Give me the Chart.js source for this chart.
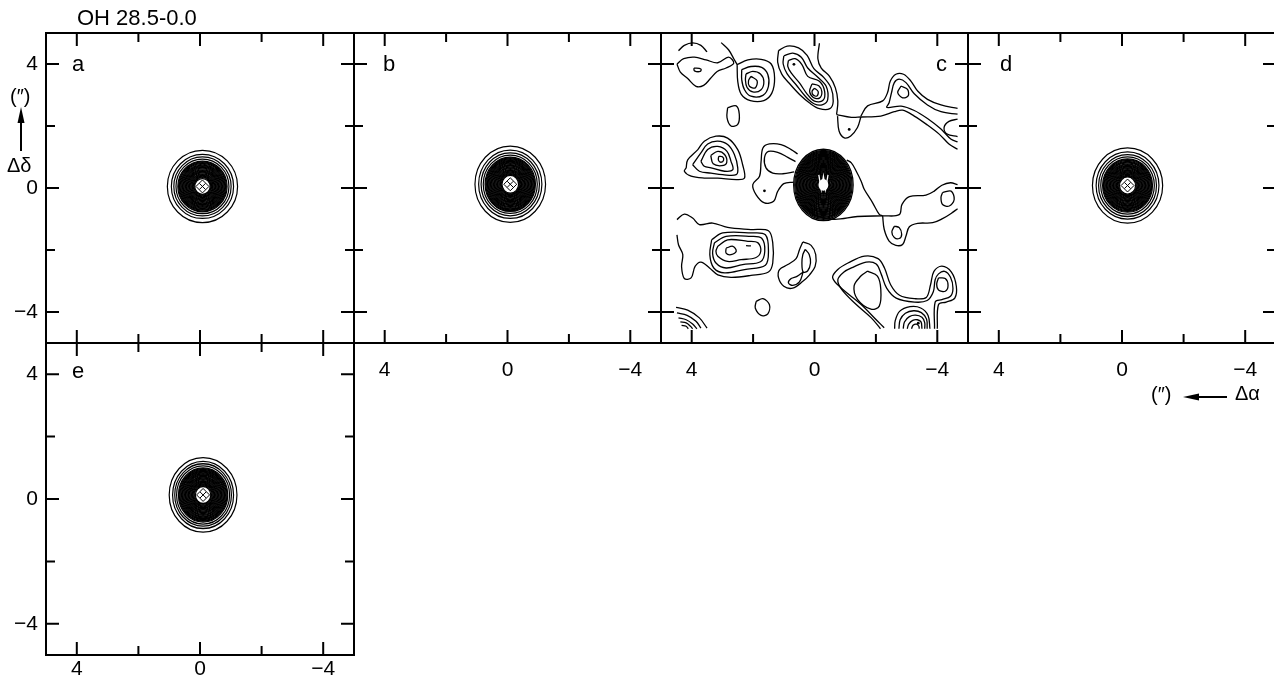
<!DOCTYPE html>
<html>
<head>
<meta charset="utf-8">
<title>OH 28.5-0.0</title>
<script src="https://cdn.jsdelivr.net/npm/chart.js@4.4.1/dist/chart.umd.min.js"></script>
<style>
  html, body { margin: 0; padding: 0; background: #fff; }
  body { position: relative; width: 1274px; height: 681px; overflow: hidden; font-family: 'Liberation Sans', Arial, sans-serif; color: #000; }
  canvas { position: absolute; left: 0; top: 0; }
  .lbl { position: absolute; white-space: nowrap; font-size: 22px; line-height: 22px; }
  .ax { position: absolute; white-space: nowrap; font-size: 20px; line-height: 20px; }
  svg { position: absolute; left: 0; top: 0; }
</style>
</head>
<body>
<canvas id="panelA" width="1290" height="720"></canvas>
<canvas id="panelB" width="1290" height="720"></canvas>
<canvas id="panelC" width="1290" height="720"></canvas>
<canvas id="panelD" width="1290" height="720"></canvas>
<canvas id="panelE" width="1290" height="720"></canvas>

<div class="lbl" style="left:77px;top:7px">OH 28.5-0.0</div>
<div class="lbl" style="left:72px;top:53px">a</div>
<div class="lbl" style="left:383px;top:53px">b</div>
<div class="lbl" style="left:936px;top:53px">c</div>
<div class="lbl" style="left:1000px;top:53px">d</div>
<div class="lbl" style="left:72px;top:360px">e</div>
<div class="ax" style="left:10px;top:86px">(″)</div>
<div class="ax" style="left:7px;top:155px">Δδ</div>
<div class="ax" style="left:1151px;top:384px">(″)</div>
<div class="ax" style="left:1235px;top:383px">Δα</div>
<svg width="1274" height="681">
  <line x1="21" y1="151" x2="21" y2="118" stroke="#000" stroke-width="2"/>
  <polygon points="21,107 17.5,123 24.5,123" fill="#000"/>
  <line x1="1227" y1="397" x2="1195" y2="397" stroke="#000" stroke-width="2"/>
  <polygon points="1183,397 1199,393.5 1199,400.5" fill="#000"/>
</svg>

<script>
const tickValues = [4, 2, 0, -2, -4];
const tickLabels = ['4', '', '0', '', '\u22124'];

// compact maps (a, b, d, e): source centre and contour radii, arcsec
const centerA = [-0.08, 0.05];
const ringsA = [1.14, 1.01, 0.93, 0.86, 0.80, 0.775, 0.75, 0.725, 0.70, 0.675, 0.65, 0.625, 0.60, 0.575, 0.55, 0.525, 0.50, 0.475, 0.45, 0.425, 0.40, 0.375, 0.35, 0.325, 0.30, 0.275, 0.25];
const centerB = [-0.09, 0.12];
const ringsB = [1.15, 1.03, 0.95, 0.88, 0.82, 0.795, 0.77, 0.745, 0.72, 0.695, 0.67, 0.645, 0.62, 0.595, 0.57, 0.545, 0.52, 0.495, 0.47, 0.445, 0.42, 0.395, 0.37, 0.345, 0.32, 0.295, 0.27];
const centerD = [-0.18, 0.08];
const ringsD = [1.14, 1.02, 0.94, 0.87, 0.81, 0.785, 0.76, 0.735, 0.71, 0.685, 0.66, 0.635, 0.61, 0.585, 0.56, 0.535, 0.51, 0.485, 0.46, 0.435, 0.41, 0.385, 0.36, 0.335, 0.31, 0.285, 0.26];
const centerE = [-0.10, 0.13];
const ringsE = [1.10, 0.99, 0.92, 0.86, 0.80, 0.775, 0.75, 0.725, 0.70, 0.675, 0.65, 0.625, 0.60, 0.575, 0.55, 0.525, 0.50, 0.475, 0.45, 0.425, 0.40, 0.375, 0.35, 0.325, 0.30, 0.275, 0.25];
// axis ratio (north-south / east-west) of the rings
const ellipticity = { a: 1.03, b: 1.08, c: 1.2, d: 1.07, e: 1.1 };

// panel c: central source plus traced contours [Δα, Δδ]
const centerC = [-0.29, 0.10];
const ringsC = [0.97, 0.935, 0.905, 0.88, 0.855, 0.83, 0.805, 0.78, 0.755, 0.73, 0.705, 0.68, 0.655, 0.63, 0.605, 0.58, 0.555, 0.53, 0.505, 0.48, 0.455, 0.43, 0.405, 0.38, 0.355, 0.33, 0.305, 0.28, 0.255, 0.23, 0.205, 0.18];
const cCoreMark = [[-0.14, 0.42], [-0.22, -0.04], [-0.29, 0.38], [-0.36, -0.04], [-0.44, 0.42]];

const cF1Arc = [[4.43, 4.43], [4.24, 4.60], [3.97, 4.68], [3.70, 4.60], [3.50, 4.39]];
const cF1Loop = [[4.48, 4.00], [4.26, 4.17], [3.91, 4.22], [3.53, 4.13], [3.15, 4.04], [2.80, 4.22], [2.63, 4.03], [2.88, 3.87], [3.17, 3.76], [3.39, 3.53], [3.61, 3.31], [3.86, 3.28], [4.13, 3.53], [4.37, 3.74], [4.48, 4.00]];
const cF1Core = [[3.93, 3.87], [3.70, 3.84], [3.72, 3.76], [3.91, 3.78], [3.93, 3.87]];
const cF2Edge = [[3.04, 4.69], [2.80, 4.46], [2.63, 4.17], [2.52, 3.98]];
const cF2R1 = [[2.52, 3.98], [2.17, 4.13], [1.74, 4.15], [1.41, 4.00], [1.30, 3.55], [1.39, 3.06], [1.65, 2.82], [2.09, 2.82], [2.39, 3.03], [2.50, 3.44], [2.52, 3.98]];
const cF2R2 = [[2.37, 3.82], [2.07, 3.92], [1.72, 3.89], [1.52, 3.66], [1.50, 3.28], [1.68, 2.99], [2.07, 2.96], [2.28, 3.17], [2.37, 3.49], [2.37, 3.82]];
const cF2R3 = [[2.23, 3.68], [2.01, 3.76], [1.76, 3.68], [1.65, 3.44], [1.74, 3.17], [2.01, 3.10], [2.20, 3.25], [2.25, 3.49], [2.23, 3.68]];
const cF2R4 = [[2.07, 3.60], [1.87, 3.46], [1.93, 3.23], [2.12, 3.28], [2.15, 3.46], [2.07, 3.60]];
const cF3Edge = [[-0.16, 4.67], [-0.11, 4.17], [-0.22, 3.87], [-0.49, 3.60], [-0.68, 3.23], [-0.76, 2.80], [-0.72, 2.37]];
const cF3R1 = [[1.17, 4.43], [0.89, 4.58], [0.52, 4.52], [0.24, 4.28], [0.02, 3.85], [-0.30, 3.57], [-0.54, 3.23], [-0.61, 2.80], [-0.50, 2.56], [-0.16, 2.56], [0.16, 2.74], [0.46, 2.99], [0.78, 3.33], [1.07, 3.68], [1.20, 4.06], [1.17, 4.43]];
const cF3R2 = [[1.00, 4.26], [0.71, 4.35], [0.43, 4.22], [0.22, 3.87], [-0.11, 3.57], [-0.38, 3.28], [-0.43, 2.85], [-0.27, 2.69], [0.00, 2.71], [0.30, 2.96], [0.60, 3.33], [0.89, 3.68], [1.02, 4.00], [1.00, 4.26]];
const cF3R3 = [[0.85, 4.11], [0.63, 4.17], [0.41, 3.98], [0.22, 3.60], [-0.16, 3.44], [-0.33, 3.12], [-0.27, 2.82], [0.00, 2.80], [0.24, 3.03], [0.49, 3.39], [0.76, 3.71], [0.87, 3.92], [0.85, 4.11]];
const cF3R4 = [[0.08, 3.36], [-0.14, 3.30], [-0.24, 3.10], [-0.16, 2.90], [0.04, 2.92], [0.16, 3.12], [0.08, 3.36]];
const cF3R5 = [[0.00, 3.22], [-0.12, 3.11], [-0.08, 2.97], [0.04, 3.00], [0.08, 3.12], [0.00, 3.22]];
const cJoin = [[-0.72, 2.37], [-1.20, 2.28], [-1.51, 2.29], [-2.16, 2.32], [-2.60, 2.46], [-2.87, 2.51], [-3.25, 2.32], [-3.68, 2.03], [-4.07, 1.73], [-4.39, 1.41], [-4.66, 1.25]];
const cJoinLoop = [[-0.75, 2.32], [-0.80, 1.84], [-0.97, 1.62], [-1.18, 1.68], [-1.40, 1.95], [-1.51, 2.29]];
const cF4Outer = [[-1.51, 2.32], [-1.73, 2.65], [-2.22, 2.81], [-2.38, 3.08], [-2.47, 3.45], [-2.65, 3.67], [-2.90, 3.67], [-3.14, 3.45], [-3.36, 3.13], [-3.68, 2.86], [-4.12, 2.68], [-4.66, 2.57]];
const cF4Mid = [[-4.66, 2.38], [-4.12, 2.46], [-3.68, 2.68], [-3.25, 3.04], [-2.98, 3.40], [-2.76, 3.51], [-2.60, 3.40], [-2.51, 3.08], [-2.43, 2.75], [-2.36, 2.60], [-2.82, 2.64], [-3.25, 2.50], [-3.68, 2.24], [-4.12, 1.90], [-4.45, 1.57], [-4.66, 1.49]];
const cF4Core = [[-2.82, 3.29], [-3.03, 3.18], [-3.05, 2.97], [-2.87, 2.91], [-2.71, 3.08], [-2.82, 3.29]];
const cF4Edge = [[-4.66, 2.22], [-4.38, 2.15], [-4.22, 1.95], [-4.32, 1.74], [-4.66, 1.66]];
const cF5aR1 = [[4.18, 0.65], [4.13, 0.91], [3.80, 1.24], [3.59, 1.51], [3.21, 1.67], [2.83, 1.61], [2.50, 1.24], [2.34, 0.75], [2.28, 0.32], [2.55, 0.27], [3.15, 0.32], [3.59, 0.32], [4.02, 0.38], [4.24, 0.54], [4.18, 0.65]];
const cF5aR2 = [[3.97, 0.75], [3.70, 1.13], [3.48, 1.42], [3.15, 1.51], [2.83, 1.40], [2.61, 1.08], [2.50, 0.65], [2.55, 0.43], [2.99, 0.43], [3.37, 0.48], [3.75, 0.54], [3.97, 0.75]];
const cF5aR3 = [[3.70, 0.86], [3.48, 1.24], [3.15, 1.34], [2.85, 1.18], [2.72, 0.86], [2.66, 0.59], [2.93, 0.54], [3.37, 0.65], [3.59, 0.70], [3.70, 0.86]];
const cF5aR4 = [[3.38, 1.05], [3.15, 1.18], [2.93, 1.08], [2.86, 0.82], [3.02, 0.72], [3.30, 0.78], [3.38, 1.05]];
const cF5aR5 = [[3.12, 1.02], [3.00, 1.01], [2.96, 0.90], [3.05, 0.83], [3.13, 0.90], [3.12, 1.02]];
const cF5Small = [[2.83, 2.59], [2.55, 2.65], [2.45, 2.38], [2.50, 2.05], [2.72, 2.00], [2.85, 2.27], [2.83, 2.59]];
const cF5bOuter = [[0.55, 1.10], [0.76, 1.24], [1.09, 1.40], [1.47, 1.42], [1.68, 1.29], [1.74, 0.86], [1.79, 0.38], [2.01, 0.11], [1.90, -0.22], [1.63, -0.48], [1.33, -0.43], [1.20, -0.11], [1.00, 0.14], [0.68, 0.19]];
const cF5bInner = [[0.62, 0.85], [0.87, 0.99], [1.20, 1.15], [1.50, 1.18], [1.63, 0.97], [1.58, 0.65], [1.36, 0.48], [1.03, 0.46], [0.66, 0.52]];
const cB1 = [[-1.05, 0.90], [-1.20, 0.81], [-1.36, 0.54], [-1.52, 0.22], [-1.62, -0.04], [-1.89, -0.47], [-2.11, -0.85], [-2.22, -0.90]];
const cB2 = [[0.45, -0.55], [-0.05, -0.88], [-0.64, -1.01], [-1.40, -0.92], [-2.22, -0.90]];
const cB3 = [[-2.22, -0.90], [-2.76, -0.86], [-2.85, -0.53], [-3.09, -0.28], [-3.63, -0.23], [-3.90, -0.10], [-4.15, 0.09], [-4.43, 0.17], [-4.66, 0.11]];
const cB4 = [[-2.22, -0.90], [-2.27, -1.33], [-2.43, -1.71], [-2.65, -1.85], [-2.87, -1.82], [-2.98, -1.55], [-3.09, -1.25], [-3.36, -1.14], [-3.85, -1.12], [-4.17, -0.99], [-4.45, -0.82], [-4.66, -0.67]];
const cS1 = [[-2.60, -1.23], [-2.76, -1.28], [-2.84, -1.49], [-2.76, -1.63], [-2.60, -1.60], [-2.52, -1.42], [-2.60, -1.23]];
const cS2 = [[-4.17, -0.15], [-4.45, -0.10], [-4.55, -0.37], [-4.39, -0.58], [-4.17, -0.53], [-4.12, -0.31], [-4.17, -0.15]];
const cF6Outer = [[-2.27, -4.51], [-2.05, -4.29], [-1.51, -3.75], [-0.86, -3.22], [-0.59, -2.89], [-0.76, -2.63], [-1.09, -2.42], [-1.63, -2.20], [-2.07, -2.28], [-2.28, -2.58], [-2.48, -3.12], [-2.77, -3.46], [-3.26, -3.57], [-3.64, -3.53], [-3.78, -3.12], [-3.89, -2.69], [-4.15, -2.52], [-4.46, -2.71], [-4.62, -3.17], [-4.57, -3.55], [-4.29, -3.68], [-4.04, -3.76], [-4.00, -4.54]];
const cF6Mid = [[-2.15, -4.54], [-1.85, -4.19], [-1.36, -3.76], [-0.89, -3.28], [-0.76, -2.96], [-0.96, -2.71], [-1.25, -2.56], [-1.68, -2.39], [-2.01, -2.45], [-2.17, -2.77], [-2.35, -3.23], [-2.66, -3.55], [-3.26, -3.68], [-3.67, -3.63], [-3.87, -3.35], [-3.93, -2.96], [-4.04, -2.77], [-4.24, -2.69], [-4.43, -2.88], [-4.51, -3.23], [-4.43, -3.49], [-4.15, -3.60], [-3.93, -3.68], [-3.91, -4.54]];
const cF6Left = [[-1.73, -2.68], [-2.05, -2.84], [-2.16, -3.27], [-2.11, -3.81], [-1.84, -3.91], [-1.40, -3.59], [-1.29, -3.16], [-1.51, -2.84], [-1.73, -2.68]];
const cF6Right = [[-4.04, -2.90], [-4.26, -2.92], [-4.35, -3.14], [-4.26, -3.33], [-4.04, -3.29], [-3.98, -3.10], [-4.04, -2.90]];
const cF7A1 = [[-2.61, -4.54], [-2.63, -4.28], [-2.77, -3.98], [-3.11, -3.83], [-3.46, -3.87], [-3.70, -4.11], [-3.76, -4.54]];
const cF7A2 = [[-2.75, -4.54], [-2.79, -4.25], [-2.96, -4.04], [-3.23, -3.96], [-3.48, -4.02], [-3.65, -4.23], [-3.67, -4.54]];
const cF7A3 = [[-2.89, -4.54], [-2.93, -4.32], [-3.09, -4.15], [-3.29, -4.10], [-3.50, -4.17], [-3.59, -4.34], [-3.59, -4.54]];
const cF7A4 = [[-3.02, -4.54], [-3.07, -4.39], [-3.20, -4.27], [-3.35, -4.25], [-3.47, -4.32], [-3.50, -4.54]];
const cF7A5 = [[-3.16, -4.54], [-3.21, -4.43], [-3.32, -4.39], [-3.40, -4.46], [-3.41, -4.54]];
const cF8Outer = [[4.48, -1.02], [4.24, -0.84], [3.97, -0.97], [3.75, -1.18], [3.32, -1.13], [2.83, -1.27], [2.07, -1.34], [1.50, -1.38], [1.36, -1.77], [1.36, -2.42], [1.50, -2.71], [2.07, -2.82], [2.72, -2.88], [3.15, -2.80], [3.42, -2.58], [3.70, -2.39], [3.89, -2.53], [4.02, -2.90], [4.24, -2.92], [4.33, -2.53], [4.29, -2.15], [4.43, -1.83], [4.48, -1.51]];
const cF8R4 = [[3.35, -1.67], [2.99, -1.45], [2.07, -1.45], [1.60, -1.51], [1.50, -2.04], [1.60, -2.49], [2.28, -2.63], [2.93, -2.74], [3.28, -2.58], [3.41, -2.15], [3.35, -1.67]];
const cF8R3 = [[3.26, -1.77], [2.88, -1.56], [2.07, -1.56], [1.72, -1.62], [1.62, -2.04], [1.76, -2.38], [2.34, -2.47], [2.88, -2.58], [3.21, -2.42], [3.32, -2.10], [3.26, -1.77]];
const cF8R2 = [[3.15, -1.88], [2.83, -1.67], [2.17, -1.72], [1.84, -1.77], [1.75, -2.04], [1.92, -2.25], [2.39, -2.31], [2.83, -2.37], [3.15, -2.20], [3.21, -2.04], [3.15, -1.88]];
const cF8Core = [[2.88, -1.94], [2.66, -1.88], [2.55, -2.04], [2.72, -2.15], [2.88, -2.10], [2.88, -1.94]];
const cF8Dash = [[2.23, -1.86], [2.07, -1.87]];
const cF9Outer = [[0.38, -1.74], [0.11, -1.85], [-0.04, -2.15], [-0.02, -2.53], [0.16, -2.80], [0.38, -3.01], [0.71, -3.23], [1.00, -3.17], [1.17, -2.90], [1.14, -2.63], [0.87, -2.47], [0.60, -2.28], [0.49, -1.99], [0.38, -1.74]];
const cF9Up = [[0.30, -1.98], [0.17, -2.15], [0.13, -2.42], [0.22, -2.67], [0.37, -2.71], [0.41, -2.42], [0.38, -2.15], [0.30, -1.98]];
const cF9Low = [[0.37, -2.71], [0.57, -2.85], [0.76, -2.92], [0.85, -3.06], [0.71, -3.14], [0.49, -3.03], [0.37, -2.71]];
const cF10 = [[1.90, -3.66], [1.68, -3.57], [1.47, -3.76], [1.52, -4.06], [1.74, -4.11], [1.93, -3.87], [1.90, -3.66]];
const cF11A1 = [[4.51, -3.85], [4.13, -3.94], [3.75, -4.19], [3.50, -4.52]];
const cF11A2 = [[4.48, -4.03], [4.15, -4.11], [3.86, -4.30], [3.70, -4.52]];
const cF11A3 = [[4.43, -4.19], [4.18, -4.25], [3.97, -4.39], [3.83, -4.54]];
const cF11A4 = [[4.37, -4.32], [4.18, -4.35], [4.04, -4.46], [3.97, -4.54]];
const cF11A5 = [[4.33, -4.43], [4.18, -4.46], [4.11, -4.54]];
const cDots = [[-1.13, 1.89], [1.63, -0.09], [0.67, 3.99], [-3.38, -4.36]];

const contoursC = [
  cF1Arc, cF1Loop, cF1Core, cF2Edge, cF2R1, cF2R2, cF2R3, cF2R4,
  cF3Edge, cF3R1, cF3R2, cF3R3, cF3R4, cF3R5, cJoin, cJoinLoop,
  cF4Outer, cF4Mid, cF4Core, cF4Edge,
  cF5aR1, cF5aR2, cF5aR3, cF5aR4, cF5aR5, cF5Small, cF5bOuter, cF5bInner,
  cB1, cB2, cB3, cB4, cS1, cS2,
  cF6Outer, cF6Mid, cF6Left, cF6Right, cF7A1, cF7A2, cF7A3, cF7A4, cF7A5,
  cF8Outer, cF8R4, cF8R3, cF8R2, cF8Core, cF8Dash,
  cF9Outer, cF9Up, cF9Low, cF10, cF11A1, cF11A2, cF11A3, cF11A4, cF11A5
];

const W = 1290, H = 720;
const FONT = "'Liberation Sans', Arial, sans-serif";
const Y_AXIS_W = 46, X_AXIS_H = 45;

function unitPx(chart) {
  const x = chart.scales.x;
  return Math.abs(x.getPixelForValue(1) - x.getPixelForValue(0));
}

function ringSet(center, radii, stretch) {
  return {
    data: radii.map(r => ({ x: center[0], y: center[1], r: r })),
    showLine: false,
    pointStyle: 'circle',
    pointRadius: ctx => ctx.raw ? ctx.raw.r * unitPx(ctx.chart) : 0,
    pointBorderWidth: 1.2,
    pointBorderColor: '#000',
    pointBackgroundColor: 'rgba(0,0,0,0)',
    cx: center[0], cy: center[1], stretch: stretch
  };
}

function coreSet(center) {
  return {
    data: [
      { x: center[0], y: center[1], r: 0.21, s: 'rectRot' },
      { x: center[0], y: center[1], r: 0.14, s: 'crossRot' }
    ],
    showLine: false,
    pointStyle: ctx => ctx.raw ? ctx.raw.s : 'circle',
    pointRadius: ctx => ctx.raw ? ctx.raw.r * unitPx(ctx.chart) : 0,
    pointBorderWidth: 1,
    pointBorderColor: '#000',
    pointBackgroundColor: 'rgba(0,0,0,0)'
  };
}

function lineSet(points, color, width, tension) {
  return {
    data: points.map(p => ({ x: p[0], y: p[1] })),
    showLine: true,
    borderColor: color,
    borderWidth: width,
    pointRadius: 0,
    tension: tension,
    fill: false
  };
}

function dotSet(points) {
  return {
    data: points.map(p => ({ x: p[0], y: p[1] })),
    showLine: false,
    pointStyle: 'circle',
    pointRadius: 1.4,
    pointBorderWidth: 0,
    pointBackgroundColor: '#000'
  };
}

// stretch the ring datasets north-south around their centre
const stretchPlugin = {
  id: 'stretch',
  beforeDatasetDraw(chart, args) {
    const ds = chart.data.datasets[args.index];
    if (!ds.stretch) return;
    const cx = chart.scales.x.getPixelForValue(ds.cx);
    const cy = chart.scales.y.getPixelForValue(ds.cy);
    const ctx = chart.ctx;
    ctx.save();
    ctx.translate(cx, cy);
    ctx.scale(1, ds.stretch);
    ctx.translate(-cx, -cy);
  },
  afterDatasetDraw(chart, args) {
    const ds = chart.data.datasets[args.index];
    if (ds.stretch) chart.ctx.restore();
  }
};

// box around each map with inward ticks on all four sides
const framePlugin = {
  id: 'frame',
  afterDraw(chart) {
    const { ctx, chartArea: a, scales: { x, y } } = chart;
    ctx.save();
    ctx.strokeStyle = '#000';
    ctx.lineWidth = 2;
    ctx.strokeRect(a.left, a.top, a.right - a.left, a.bottom - a.top);
    ctx.beginPath();
    tickValues.forEach((v, i) => {
      const len = tickLabels[i] ? 13 : 9;
      const px = x.getPixelForValue(v);
      const py = y.getPixelForValue(v);
      ctx.moveTo(px, a.top); ctx.lineTo(px, a.top + len);
      ctx.moveTo(px, a.bottom); ctx.lineTo(px, a.bottom - len);
      ctx.moveTo(a.left, py); ctx.lineTo(a.left + len, py);
      ctx.moveTo(a.right, py); ctx.lineTo(a.right - len, py);
    });
    ctx.stroke();
    ctx.restore();
  }
};

function axis(showLabels, pad, horizontal) {
  const size = showLabels ? (horizontal ? X_AXIS_H : Y_AXIS_W) : 0;
  return {
    type: 'linear',
    min: -5,
    max: 5,
    reverse: horizontal,
    afterBuildTicks: s => { s.ticks = tickValues.map(v => ({ value: v })); },
    afterFit: s => { if (horizontal) s.height = size; else s.width = size; },
    grid: { display: false, drawTicks: false },
    border: { display: false },
    ticks: {
      display: showLabels,
      padding: pad,
      autoSkip: false,
      maxRotation: 0,
      color: '#000',
      font: { family: FONT, size: 21 },
      callback: v => tickLabels[tickValues.indexOf(v)]
    }
  };
}

function makePanel(id, box, datasets, showX, padX, showY) {
  const yw = showY ? Y_AXIS_W : 0;
  const xh = showX ? X_AXIS_H : 0;
  return new Chart(document.getElementById(id), {
    type: 'scatter',
    data: { datasets: datasets },
    options: {
      responsive: false,
      animation: false,
      events: [],
      devicePixelRatio: 1,
      layout: { padding: { left: box[0] - yw, top: box[1], right: W - box[2], bottom: H - box[3] - xh } },
      plugins: { legend: { display: false }, tooltip: { enabled: false } },
      scales: { x: axis(showX, padX, true), y: axis(showY, 8, false) }
    },
    plugins: [stretchPlugin, framePlugin]
  });
}

makePanel('panelA', [46, 33, 354, 343],
  [coreSet(centerA), ringSet(centerA, ringsA, ellipticity.a)], false, 15, true);
makePanel('panelB', [354, 33, 661, 343],
  [coreSet(centerB), ringSet(centerB, ringsB, ellipticity.b)], true, 15, false);
makePanel('panelC', [661, 33, 968, 343],
  [lineSet(cCoreMark, '#fff', 1.3, 0), dotSet(cDots)]
    .concat(contoursC.map(c => lineSet(c, '#000', 1.3, 0.35)))
    .concat([ringSet(centerC, ringsC, ellipticity.c)]), true, 15, false);
makePanel('panelD', [968, 33, 1276, 343],
  [coreSet(centerD), ringSet(centerD, ringsD, ellipticity.d)], true, 15, false);
makePanel('panelE', [46, 343, 354, 655],
  [coreSet(centerE), ringSet(centerE, ringsE, ellipticity.e)], true, 2, true);
</script>
</body>
</html>
